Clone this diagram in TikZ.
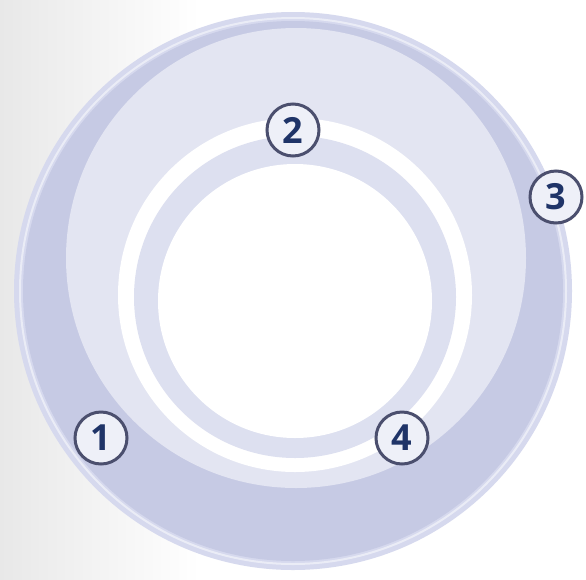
\documentclass[tikz,border=0pt]{standalone}
\usepackage{fontspec}
\setmainfont{Open Sans}
\usepackage{xcolor}
\definecolor{outerlav}{HTML}{C6CAE4}
\definecolor{rimlav}{HTML}{D6D9EE}
\definecolor{lightlav}{HTML}{E3E5F2}
\definecolor{ringlav}{HTML}{DDE0F0}
\definecolor{numedge}{HTML}{4B4F6E}
\definecolor{numtext}{HTML}{1F3468}
\definecolor{numfill}{HTML}{EEF0F8}

\begin{document}
\begin{tikzpicture}[x=1pt, y=-1pt, every node/.style={circle, draw=numedge, line width=3pt, fill=numfill, minimum size=52pt, inner sep=0pt, text=numtext, font=\fontsize{36}{36}\selectfont\bfseries}]

    % Background
    \useasboundingbox (0,0) rectangle (586,579);
    \fill[white] (0,0) rectangle (586,579);
    \shade[left color=black!9, right color=white] (0,0) rectangle (200,579);

    % Define rings
    \fill[rimlav] (293,291) circle (279);
    \fill[outerlav] (293,291) circle (270);
    \draw[white, line width=2pt, opacity=0.5] (293,291) circle (273);
    \fill[lightlav] (296,258) circle (230);
    \fill[white] (295,295) circle (177);
    \fill[ringlav] (295,297) circle (161);
    \fill[white] (295,301) circle (137);

    % Define numbers
    \node (one) at (101,438) {1};
    \node (two) at (293,130) {2};
    \node (three) at (556,197) {3};
    \node (four) at (402,438) {4};

\end{tikzpicture}
\end{document}
